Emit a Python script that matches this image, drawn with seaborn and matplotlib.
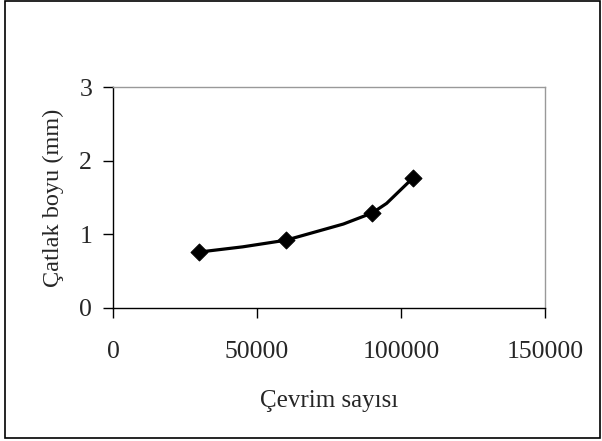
import pandas as pd
import matplotlib.pyplot as plt
import seaborn as sns
from matplotlib.patches import Rectangle

sns.set_style("white")
plt.rcParams['font.family'] = ['Liberation Serif', 'DejaVu Serif']

# Measured points (markers)
cycles = [30000, 60000, 90000, 104000]
crack_len = [0.76, 0.92, 1.29, 1.76]

# Line path as drawn (includes unmarked bend points)
line_cycles = [30000, 45000, 60000, 80000, 90000, 95000, 104000]
line_len = [0.76, 0.83, 0.92, 1.14, 1.29, 1.42, 1.76]

markers = pd.DataFrame({'x': cycles, 'y': crack_len})
path = pd.DataFrame({'x': line_cycles, 'y': line_len})

fig = plt.figure(figsize=(6.02, 4.41), dpi=100)
ax = fig.add_axes([113 / 602, 1 - 308 / 441, 432 / 602, 221 / 441])

sns.lineplot(data=path, x='x', y='y', color='black', linewidth=2.3, sort=False, ax=ax)
sns.scatterplot(data=markers, x='x', y='y', marker='D', s=75, color='black',
                edgecolor='black', zorder=5, ax=ax)

ax.set_xlim(0, 150000)
ax.set_ylim(0, 3)
ax.set_xticks([0, 50000, 100000, 150000])
ax.set_yticks([0, 1, 2, 3])
ax.tick_params(axis='both', direction='out', length=7, width=1, color='black',
               labelsize=18.5, bottom=True, left=True)
ax.tick_params(axis='x', pad=17)
ax.tick_params(axis='y', pad=8)
ax.set_xlabel("Çevrim sayısı", fontsize=18, labelpad=19)
ax.set_ylabel("Çatlak boyu (mm)", fontsize=17.5, labelpad=11)

for side in ['left', 'bottom']:
    ax.spines[side].set_color('black')
    ax.spines[side].set_linewidth(1)
for side in ['top', 'right']:
    ax.spines[side].set_color('#999999')
    ax.spines[side].set_linewidth(1)

fig.patches.append(Rectangle((4.5 / 602, 3.5 / 441), 595 / 602, 437 / 441,
                             transform=fig.transFigure, fill=False,
                             edgecolor='black', linewidth=1.2))

fig.savefig("out.png", dpi=100)
